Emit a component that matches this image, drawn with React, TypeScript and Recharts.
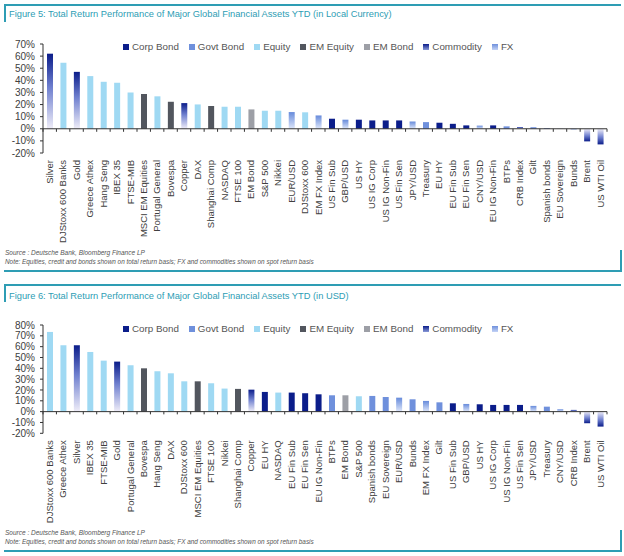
import React from "react";
import { BarChart, Bar, Cell, XAxis, YAxis, ReferenceLine } from "recharts";

const FONT = '"Liberation Sans", Arial, sans-serif';
const TEAL = "#2e9db4";

const legendTypes = ["Corp Bond", "Govt Bond", "Equity", "EM Equity", "EM Bond", "Commodity", "FX"];

// Figure 5 - local currency
const localNames = [
  "Silver", "DJStoxx 600 Banks", "Gold", "Greece Athex", "Hang Seng", "IBEX 35", "FTSE-MIB",
  "MSCI EM Equities", "Portugal General", "Bovespa", "Copper", "DAX", "Shanghai Comp", "NASDAQ",
  "FTSE 100", "EM Bond", "S&P 500", "Nikkei", "EUR/USD", "DJStoxx 600", "EM FX Index",
  "US Fin Sub", "GBP/USD", "US HY", "US IG Corp", "US IG Non-Fin", "US Fin Sen", "JPY/USD",
  "Treasury", "EU HY", "EU Fin Sub", "EU Fin Sen", "CNY/USD", "EU IG Non-Fin", "BTPs",
  "CRB Index", "Gilt", "Spanish bonds", "EU Sovereign", "Bunds", "Brent", "US WTI Oil",
];
const localValues = [
  62, 54.5, 47, 43.5, 38.8, 38, 30, 28.7, 26.8, 22.3, 21.2, 20.1, 18.8, 18.2, 18.2, 16, 14.9,
  14.9, 13.8, 13.6, 11, 8.3, 7.5, 7.5, 6.9, 6.9, 6.9, 6, 5.5, 5, 4.1, 2.8, 2.6, 2.8, 2, 1.4,
  1.3, 0.6, 0.1, -0.5, -10.4, -12.9,
];
const localTypes = [
  "Commodity", "Equity", "Commodity", "Equity", "Equity", "Equity", "Equity", "EM Equity",
  "Equity", "EM Equity", "Commodity", "Equity", "EM Equity", "Equity", "Equity", "EM Bond",
  "Equity", "Equity", "FX", "Equity", "FX", "Corp Bond", "FX", "Corp Bond", "Corp Bond",
  "Corp Bond", "Corp Bond", "FX", "Govt Bond", "Corp Bond", "Corp Bond", "Corp Bond", "FX",
  "Corp Bond", "Govt Bond", "Commodity", "Govt Bond", "Govt Bond", "Govt Bond", "Govt Bond",
  "Commodity", "Commodity",
];
const localTicks = [-20, -10, 0, 10, 20, 30, 40, 50, 60, 70];

// Figure 6 - USD
const usdNames = [
  "DJStoxx 600 Banks", "Greece Athex", "Silver", "IBEX 35", "FTSE-MIB", "Gold",
  "Portugal General", "Bovespa", "Hang Seng", "DAX", "DJStoxx 600", "MSCI EM Equities",
  "FTSE 100", "Nikkei", "Shanghai Comp", "Copper", "EU HY", "NASDAQ", "EU Fin Sub", "EU Fin Sen",
  "EU IG Non-Fin", "BTPs", "EM Bond", "S&P 500", "Spanish bonds", "EU Sovereign", "EUR/USD",
  "Bunds", "EM FX Index", "Gilt", "US Fin Sub", "GBP/USD", "US HY", "US IG Corp",
  "US IG Non-Fin", "US Fin Sen", "JPY/USD", "Treasury", "CNY/USD", "CRB Index", "Brent",
  "US WTI Oil",
];
const usdValues = [
  73.6, 61.3, 61.3, 55.1, 47.1, 46.2, 42.8, 40, 37.3, 35.4, 28, 28, 26.2, 21.3, 21, 20.3, 18.2,
  17.6, 17.6, 17, 16, 15.1, 15.1, 14.2, 14.5, 13.5, 12.9, 11.4, 9.9, 8.6, 7.7, 7.1, 6.8, 6.2,
  6.2, 6.2, 5.3, 4.6, 2.2, 1.6, -10.7, -13.8,
];
const usdTypes = [
  "Equity", "Equity", "Commodity", "Equity", "Equity", "Commodity", "Equity", "EM Equity",
  "Equity", "Equity", "Equity", "EM Equity", "Equity", "Equity", "EM Equity", "Commodity",
  "Corp Bond", "Equity", "Corp Bond", "Corp Bond", "Corp Bond", "Govt Bond", "EM Bond", "Equity",
  "Govt Bond", "Govt Bond", "FX", "Govt Bond", "FX", "Govt Bond", "Corp Bond", "FX", "Corp Bond",
  "Corp Bond", "Corp Bond", "Corp Bond", "FX", "Govt Bond", "FX", "Commodity", "Commodity",
  "Commodity",
];
const usdTicks = [-20, -10, 0, 10, 20, 30, 40, 50, 60, 70, 80];

const solid: Record<string, string> = {
  "Corp Bond": "#0b1d8a",
  "Govt Bond": "#6f90dc",
  Equity: "#9fd9f3",
  "EM Equity": "#52565e",
  "EM Bond": "#9d9fa6",
};
const legendSwatch: Record<string, string> = {
  ...solid,
  Commodity: "linear-gradient(#0b1d8a, #8a9ad8)",
  FX: "linear-gradient(#6f90dc, #c4d3f6)",
};

function fillFor(id: string, type: string, v: number) {
  if (type === "Commodity") return `url(#${id}-com${v < 0 ? "Neg" : ""})`;
  if (type === "FX") return `url(#${id}-fx${v < 0 ? "Neg" : ""})`;
  return solid[type];
}

function CategoryTick(props: any) {
  const { x, y, payload } = props;
  return (
    <g transform={`translate(${x},${y + 7})`}>
      <text transform="rotate(-90)" textAnchor="end" dy={3.3} fontSize={9.5} fill="#404040" fontFamily={FONT}>
        {payload.value}
      </text>
    </g>
  );
}

function ReturnChart(props: {
  id: string;
  title: string;
  names: string[];
  values: number[];
  types: string[];
  ticks: number[];
  top: number;
  plotTop: number;
  plotHeight: number;
  titleY: number;
  legendY: number;
}) {
  const { id, title, names, values, types, ticks, top, plotTop, plotHeight, titleY, legendY } = props;
  const data = names.map((name, i) => ({ name, value: values[i], type: types[i] }));
  const chartH = 250;
  const last = names[names.length - 1];
  return (
    <div style={{ position: "absolute", left: 0, top, width: 624, height: 276 }}>
      <div style={{ position: "absolute", left: 4, top: 4, width: 617, height: 2, background: TEAL }} />
      <div style={{ position: "absolute", left: 4, top: 4, width: 2, height: 18, background: TEAL }} />
      <div style={{ position: "absolute", left: 9, top: titleY - 7, fontSize: 9.3, color: TEAL, fontFamily: FONT, whiteSpace: "nowrap" }}>
        {title}
      </div>
      <div style={{ position: "absolute", left: 123, top: legendY - 6, display: "flex", gap: 10, fontSize: 9.8, color: "#555", fontFamily: FONT, whiteSpace: "nowrap" }}>
        {legendTypes.map((t) => (
          <div key={t} style={{ display: "flex", alignItems: "center", gap: 3 }}>
            <span style={{ width: 6, height: 6, background: legendSwatch[t], display: "inline-block" }} />
            <span>{t}</span>
          </div>
        ))}
      </div>
      <div style={{ position: "absolute", left: 0, top: 0 }}>
        <BarChart width={624} height={chartH} data={data} margin={{ top: plotTop, right: 17, bottom: 0, left: 0 }} barSize={6}>
          <defs>
            <linearGradient id={`${id}-com`} x1="0" y1="0" x2="0" y2="1">
              <stop offset="0" stopColor="#0b1d8a" />
              <stop offset="0.45" stopColor="#6f80cf" />
              <stop offset="1" stopColor="#efedf8" />
            </linearGradient>
            <linearGradient id={`${id}-comNeg`} x1="0" y1="0" x2="0" y2="1">
              <stop offset="0" stopColor="#efedf8" />
              <stop offset="0.55" stopColor="#6f80cf" />
              <stop offset="1" stopColor="#0b1d8a" />
            </linearGradient>
            <linearGradient id={`${id}-fx`} x1="0" y1="0" x2="0" y2="1">
              <stop offset="0" stopColor="#678bdb" />
              <stop offset="1" stopColor="#dde6fa" />
            </linearGradient>
            <linearGradient id={`${id}-fxNeg`} x1="0" y1="0" x2="0" y2="1">
              <stop offset="0" stopColor="#dde6fa" />
              <stop offset="1" stopColor="#678bdb" />
            </linearGradient>
          </defs>
          <YAxis
            domain={[ticks[0], ticks[ticks.length - 1]]}
            ticks={ticks}
            interval={0}
            width={43}
            tickFormatter={(v) => `${v}%`}
            tick={{ fontSize: 10, fill: "#404040", fontFamily: FONT }}
            axisLine={{ stroke: "#333" }}
            tickLine={{ stroke: "#333" }}
            tickSize={3}
            tickMargin={5}
          />
          <XAxis
            dataKey="name"
            interval={0}
            height={chartH - plotTop - plotHeight}
            axisLine={false}
            tickLine={false}
            tickSize={0}
            tickMargin={0}
            tick={<CategoryTick />}
          />
          <Bar dataKey="value" isAnimationActive={false}>
            {data.map((d) => (
              <Cell key={d.name} fill={fillFor(id, d.type, d.value)} />
            ))}
          </Bar>
          <ReferenceLine y={0} stroke="#333" />
          {names.map((n) => (
            <ReferenceLine key={n} segment={[{ x: n, y: 0 }, { x: n, y: -2.5 }]} position="start" stroke="#333" />
          ))}
          <ReferenceLine segment={[{ x: last, y: 0 }, { x: last, y: -2.5 }]} position="end" stroke="#333" />
        </BarChart>
      </div>
      <div style={{ position: "absolute", left: 5, top: 249, fontSize: 6.5, fontStyle: "italic", color: "#555", fontFamily: FONT, whiteSpace: "nowrap" }}>
        Source : Deutsche Bank, Bloomberg Finance LP
      </div>
      <div style={{ position: "absolute", left: 5, top: 258, fontSize: 6.4, fontStyle: "italic", color: "#555", fontFamily: FONT, whiteSpace: "nowrap" }}>
        Note: Equities, credit and bonds shown on total return basis; FX and commodities shown on spot return basis
      </div>
      <div style={{ position: "absolute", left: 4, top: 270, width: 618, height: 2, background: TEAL }} />
      <div style={{ position: "absolute", left: 620, top: 250, width: 2, height: 22, background: TEAL }} />
    </div>
  );
}

export default function App() {
  return (
    <div style={{ position: "absolute", left: 0, top: 0, width: 624, height: 556, background: "#fff", overflow: "hidden" }}>
      <ReturnChart
        id="loc"
        title="Figure 5: Total Return Performance of Major Global Financial Assets YTD (in Local Currency)"
        names={localNames}
        values={localValues}
        types={localTypes}
        ticks={localTicks}
        top={0}
        plotTop={44}
        plotHeight={109}
        titleY={16}
        legendY={47}
      />
      <ReturnChart
        id="usd"
        title="Figure 6: Total Return Performance of Major Global Financial Assets YTD (in USD)"
        names={usdNames}
        values={usdValues}
        types={usdTypes}
        ticks={usdTicks}
        top={280}
        plotTop={45}
        plotHeight={108.3}
        titleY={18}
        legendY={49}
      />
    </div>
  );
}
